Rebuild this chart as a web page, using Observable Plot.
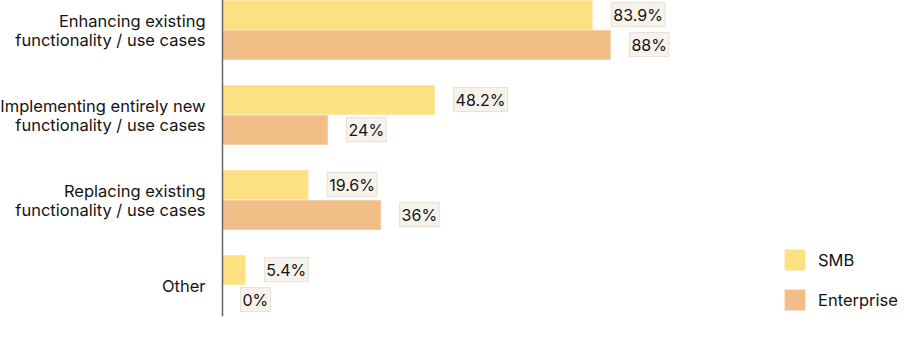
<!DOCTYPE html>
<html>
<head>
<meta charset="utf-8">
<script src="https://cdn.jsdelivr.net/npm/d3@7"></script>
<script src="https://cdn.jsdelivr.net/npm/@observablehq/plot@0.6"></script>
<style>
  html, body { margin: 0; padding: 0; background: #fff; }
  body { font-family: Inter, "Noto Sans", sans-serif; color: #141414; }
  #wrap { position: relative; width: 904px; height: 356px; }
  #legend { position: absolute; left: 784px; top: 249px; font-size: 16.5px; }
  .item { display: flex; align-items: center; height: 22px; margin-bottom: 18px; }
  .sw { width: 22px; height: 22px; box-sizing: border-box; border: 1px solid rgba(255,255,255,0.6); margin-right: 12px; }
</style>
</head>
<body>
<div id="wrap"><div id="chart"></div><div id="legend"></div></div>
<script>
const categories = [
  "Enhancing existing functionality / use cases",
  "Implementing entirely new functionality / use cases",
  "Replacing existing functionality / use cases",
  "Other"
];
const tickLabels = [
  "Enhancing existing\nfunctionality / use cases",
  "Implementing entirely new\nfunctionality / use cases",
  "Replacing existing\nfunctionality / use cases",
  "Other"
];
const seriesNames = ["SMB", "Enterprise"];
const smbValues = [83.9, 48.2, 19.6, 5.4];
const enterpriseValues = [88, 24, 36, 0];
const colors = ["#fde082", "#f2be88"];

const data = [];
categories.forEach((c, i) => {
  data.push({category: c, series: "SMB", value: smbValues[i]});
  data.push({category: c, series: "Enterprise", value: enterpriseValues[i]});
});
const labelOf = new Map(categories.map((c, i) => [c, tickLabels[i]]));

const chart = Plot.plot({
  width: 904,
  height: 356,
  marginTop: 0,
  marginBottom: 41,
  marginLeft: 222,
  marginRight: 240,
  style: {fontFamily: "Inter, 'Noto Sans', sans-serif", fontSize: "16px", color: "#141414", background: "transparent"},
  x: {domain: [0, 100], axis: null},
  y: {domain: seriesNames, padding: 0, axis: null},
  fy: {domain: categories, paddingInner: 25 / 85, paddingOuter: 0, label: null},
  color: {domain: seriesNames, range: colors},
  marks: [
    Plot.axisFy({anchor: "left", tickSize: 0, tickPadding: 17, label: null, fontSize: 16.5, lineHeight: 1.17, tickFormat: d => labelOf.get(d)}),
    Plot.barX(data, {x: "value", y: "series", fy: "category", fill: "series", stroke: "white", strokeOpacity: 0.55, strokeWidth: 1}),
    Plot.text(data, {x: "value", y: "series", fy: "category", text: d => d.value + "%", dx: 20, textAnchor: "start", fontSize: 16, fill: "#141414", className: "vlabel"}),
    Plot.frame({facet: "super", anchor: "left", stroke: "#666", strokeWidth: 1.5})
  ]
});
document.getElementById("chart").appendChild(chart);

// Label background boxes
chart.querySelectorAll(".vlabel text").forEach(t => {
  const b = t.getBBox();
  const r = document.createElementNS("http://www.w3.org/2000/svg", "rect");
  r.setAttribute("x", b.x - 2);
  r.setAttribute("y", b.y - 2);
  r.setAttribute("width", b.width + 4);
  r.setAttribute("height", b.height + 4);
  r.setAttribute("fill", "#f7f3ec");
  r.setAttribute("stroke", "#e6e0d4");
  r.setAttribute("stroke-width", "1");
  const tr = t.getAttribute("transform");
  if (tr) r.setAttribute("transform", tr);
  t.parentNode.insertBefore(r, t);
});

const legend = document.getElementById("legend");
seriesNames.forEach((s, i) => {
  const item = document.createElement("div");
  item.className = "item";
  const sw = document.createElement("div");
  sw.className = "sw";
  sw.style.background = colors[i];
  const lab = document.createElement("span");
  lab.textContent = s;
  item.appendChild(sw);
  item.appendChild(lab);
  legend.appendChild(item);
});
</script>
</body>
</html>
